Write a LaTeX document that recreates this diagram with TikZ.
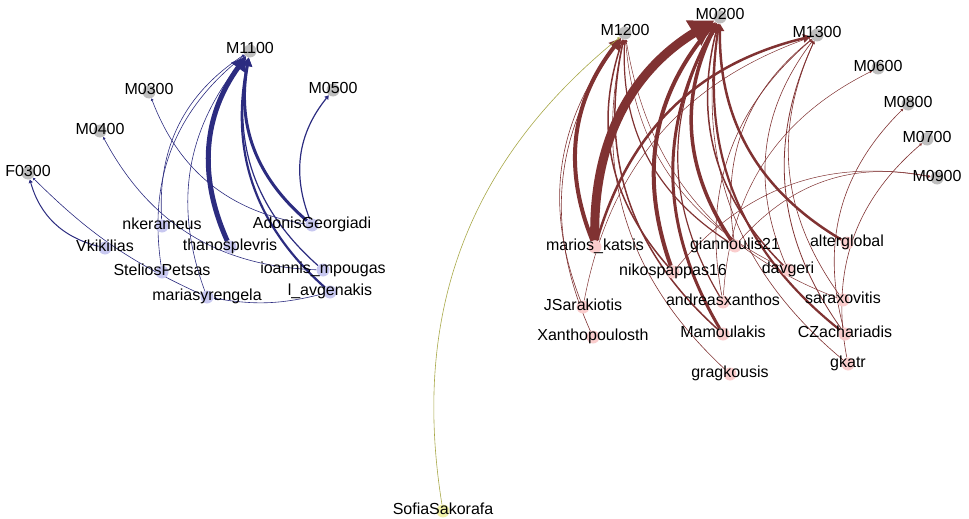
\documentclass[tikz,border=0pt]{standalone}
\usepackage{fontspec}
\setmainfont{Liberation Sans}
\usetikzlibrary{arrows.meta}
\definecolor{mgrey}{RGB}{190,190,190}
\definecolor{bpale}{RGB}{200,200,240}
\definecolor{rpale}{RGB}{250,205,205}
\definecolor{ypale}{RGB}{242,242,170}
\definecolor{bedge}{RGB}{44,44,128}
\definecolor{redge}{RGB}{128,50,50}
\definecolor{yedge}{RGB}{168,168,72}
\pgfdeclarelayer{edges}
\pgfsetlayers{edges,main}
\tikzset{
	vtx/.style={circle, inner sep=0pt, minimum size=13pt},
	mnode/.style={vtx, fill=mgrey},
	bnode/.style={vtx, fill=bpale},
	rnode/.style={vtx, fill=rpale},
	ynode/.style={vtx, fill=ypale},
	lbl/.style={anchor=base, yshift=-3pt, inner sep=0pt, font=\fontsize{16}{18}\selectfont},
	link/.style={-{Triangle[angle=60:1pt 3]}, bend left=30},
	blink/.style={link, draw=bedge},
	rlink/.style={link, draw=redge},
	ylink/.style={link, draw=yedge}
}
\begin{document}
\begin{tikzpicture}[x=1pt, y=-1pt]
		\useasboundingbox (0,0) rectangle (969,519);
		\node[mnode] (m1100) at (250,51) {};
		\node[mnode] (m0300) at (149,92) {};
		\node[mnode] (m0500) at (333,90) {};
		\node[mnode] (m0400) at (100,131) {};
		\node[mnode] (f0300) at (28,173) {};
		\node[bnode] (nkerameus) at (162,226) {};
		\node[bnode] (adonis) at (312,225) {};
		\node[bnode] (vkikilias) at (105,248) {};
		\node[bnode] (thanos) at (230,247) {};
		\node[bnode] (stelios) at (162,272) {};
		\node[bnode] (ioannis) at (323,270) {};
		\node[bnode] (maria) at (207,297) {};
		\node[bnode] (avgenakis) at (330,292) {};
		\node[mnode] (m1200) at (625,33) {};
		\node[mnode] (m0200) at (720,17) {};
		\node[mnode] (m1300) at (817,35) {};
		\node[mnode] (m0600) at (878,68) {};
		\node[mnode] (m0800) at (908,104) {};
		\node[mnode] (m0700) at (927,139) {};
		\node[mnode] (m0900) at (937,178) {};
		\node[rnode] (marios) at (595,247) {};
		\node[rnode] (giannoulis) at (735,246) {};
		\node[rnode] (alterglobal) at (847,243) {};
		\node[rnode] (nikos) at (673,272) {};
		\node[rnode] (davgeri) at (788,270) {};
		\node[rnode] (andreas) at (723,302) {};
		\node[rnode] (saraxovitis) at (843,300) {};
		\node[rnode] (jsarakiotis) at (583,307) {};
		\node[rnode] (xantho) at (593,337) {};
		\node[rnode] (mamoulakis) at (723,334) {};
		\node[rnode] (czachariadis) at (845,334) {};
		\node[rnode] (gkatr) at (848,364) {};
		\node[rnode] (gragkousis) at (730,374) {};
		\node[ynode] (sofia) at (443,511) {};
		\begin{pgfonlayer}{edges}
		\foreach \s/\t/\w in {thanos/m1100/5, adonis/m1100/3, avgenakis/m1100/2.2, ioannis/m1100/1.2, nkerameus/m1100/0.6, stelios/m1100/0.6, maria/m1100/0.6, adonis/m0500/1.2, adonis/m0300/0.6, ioannis/m0400/0.6, vkikilias/f0300/1}
			\draw[blink, line width=\w pt] (\s) to (\t);
		\draw[blink, line width=0.6pt, bend left=10] (maria) to (f0300);
		\draw[blink, line width=0.6pt, bend left=12] (avgenakis) to (maria);
		\foreach \s/\t/\w in {marios/m0200/9, marios/m1200/4, marios/m1300/2.5, giannoulis/m0200/3.5, giannoulis/m1200/1.2, nikos/m0200/4, nikos/m1200/1.5, mamoulakis/m0200/3, mamoulakis/m1200/1.5, alterglobal/m0200/2.5, czachariadis/m0200/2.2, davgeri/m0200/1.5, andreas/m0200/1.2, jsarakiotis/m1200/0.6, xantho/m1200/0.6, gragkousis/m1200/0.6, jsarakiotis/m1300/0.5, andreas/m1300/0.6, saraxovitis/m1300/0.6, czachariadis/m1300/0.8, davgeri/m1300/0.6, giannoulis/m1300/0.6, gkatr/m0200/0.6, giannoulis/m0900/0.5, nikos/m0900/0.5, andreas/m0600/0.5, czachariadis/m0800/0.6, gkatr/m0700/0.6, saraxovitis/m1200/0.5, davgeri/m1200/0.5}
			\draw[rlink, line width=\w pt] (\s) to (\t);
		\draw[ylink, line width=0.6pt] (sofia) to (m1200);
		\end{pgfonlayer}
		\node[lbl] at (m1100) {M1100};
		\node[lbl] at (m0300) {M0300};
		\node[lbl] at (m0500) {M0500};
		\node[lbl] at (m0400) {M0400};
		\node[lbl] at (f0300) {F0300};
		\node[lbl] at (nkerameus) {nkerameus};
		\node[lbl] at (adonis) {AdonisGeorgiadi};
		\node[lbl] at (vkikilias) {Vkikilias};
		\node[lbl] at (thanos) {thanosplevris};
		\node[lbl] at (stelios) {SteliosPetsas};
		\node[lbl] at (ioannis) {ioannis\_mpougas};
		\node[lbl] at (maria) {mariasyrengela};
		\node[lbl] at (avgenakis) {l\_avgenakis};
		\node[lbl] at (m1200) {M1200};
		\node[lbl] at (m0200) {M0200};
		\node[lbl] at (m1300) {M1300};
		\node[lbl] at (m0600) {M0600};
		\node[lbl] at (m0800) {M0800};
		\node[lbl] at (m0700) {M0700};
		\node[lbl] at (m0900) {M0900};
		\node[lbl] at (marios) {marios\_katsis};
		\node[lbl] at (giannoulis) {giannoulis21};
		\node[lbl] at (alterglobal) {alterglobal};
		\node[lbl] at (nikos) {nikospappas16};
		\node[lbl] at (davgeri) {davgeri};
		\node[lbl] at (andreas) {andreasxanthos};
		\node[lbl] at (saraxovitis) {saraxovitis};
		\node[lbl] at (jsarakiotis) {JSarakiotis};
		\node[lbl] at (xantho) {Xanthopoulosth};
		\node[lbl] at (mamoulakis) {Mamoulakis};
		\node[lbl] at (czachariadis) {CZachariadis};
		\node[lbl] at (gkatr) {gkatr};
		\node[lbl] at (gragkousis) {gragkousis};
		\node[lbl] at (sofia) {SofiaSakorafa};
\end{tikzpicture}
\end{document}
